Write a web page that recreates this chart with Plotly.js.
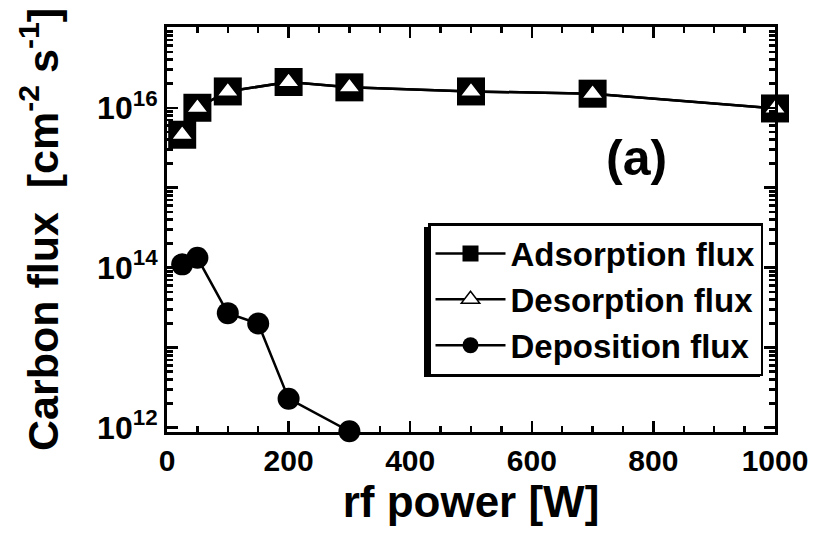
<!DOCTYPE html>
<html><head><meta charset="utf-8">
<script src="https://cdn.plot.ly/plotly-3.0.1.min.js"></script>
<style>html,body{margin:0;padding:0;background:#fff;}#chart{width:815px;height:533px;}</style>
</head><body><div id="chart"></div>
<script>
// ---- data ----
const power = [25, 50, 100, 200, 300, 500, 700, 1000];
const adsorptionFlux = [4.6e15, 1.0e16, 1.6e16, 2.1e16, 1.8e16, 1.6e16, 1.5e16, 9.8e15];
const desorptionFlux = [4.6e15, 1.0e16, 1.6e16, 2.1e16, 1.8e16, 1.6e16, 1.5e16, 9.8e15];
const depPower = [25, 50, 100, 150, 200, 300];
const depositionFlux = [1.1e14, 1.33e14, 2.7e13, 2.0e13, 2.3e12, 9.0e11];
const yTickVals = [1e12, 1e14, 1e16];
const yTickText = ['10<sup>12</sup>', '10<sup>14</sup>', '10<sup>16</sup>'];
const xTickVals = [0, 200, 400, 600, 800, 1000];
const xTickText = ['0', '200', '400', '600', '800', '1000'];
const seriesNames = ['Adsorption flux', 'Desorption flux', 'Deposition flux'];

// unlabeled decade ticks and minor tick positions for the log axis
const oddDecades = [1e11, 1e13, 1e15, 1e17];
const minors = [];
for (let e = 11; e <= 17; e++) {
  for (let m = 2; m <= 9; m++) minors.push(m * Math.pow(10, e));
}

const FONT = 'Liberation Sans, Arial, Helvetica, sans-serif';
const yRange = [11.945, 17.01];

// plot area in pixels (for placing decorations in paper coordinates)
const PL = 167, PR = 775, PT = 27, PB = 432;
const px = v => (v - PL) / (PR - PL);
const py = v => (PB - v) / (PB - PT);

const traces = [
  {x: power, y: adsorptionFlux, name: seriesNames[0], type: 'scatter', mode: 'lines+markers',
   line: {color: '#000', width: 2.5},
   marker: {symbol: 'square', size: 28, color: '#000', line: {color: '#000', width: 0}},
   cliponaxis: false},
  {x: power, y: desorptionFlux, name: seriesNames[1], type: 'scatter', mode: 'lines+markers',
   line: {color: '#000', width: 2.5},
   marker: {symbol: 'triangle-up', size: 19, color: '#fff', line: {color: '#000', width: 1.5}},
   cliponaxis: false},
  {x: depPower, y: depositionFlux, name: seriesNames[2], type: 'scatter', mode: 'lines+markers',
   line: {color: '#000', width: 2.5},
   marker: {symbol: 'circle', size: 22, color: '#000'},
   cliponaxis: false},
  // invisible helpers on the tick-only axes
  {x: [0], y: [1e14], yaxis: 'y2', mode: 'markers', marker: {opacity: 0}, showlegend: false, hoverinfo: 'skip'},
  {x: [0], y: [1e14], yaxis: 'y3', mode: 'markers', marker: {opacity: 0}, showlegend: false, hoverinfo: 'skip'}
];

const tickOnlyAxis = (vals, len) => ({
  type: 'log', range: yRange, overlaying: 'y', side: 'left', anchor: 'x',
  tickmode: 'array', tickvals: vals, showticklabels: false,
  ticks: 'inside', ticklen: len, tickwidth: 2.5, tickcolor: '#000',
  showline: false, mirror: 'ticks', showgrid: false, zeroline: false
});

const layout = {
  width: 815, height: 533,
  margin: {l: 167, r: 40, t: 27, b: 101},
  paper_bgcolor: '#fff', plot_bgcolor: '#fff',
  font: {family: FONT, color: '#000', weight: 'bold'},
  showlegend: true,
  xaxis: {
    range: [0, 1000], tickmode: 'array', tickvals: xTickVals, ticktext: xTickText,
    ticks: 'inside', ticklen: 11, tickwidth: 2.5, tickcolor: '#000',
    minor: {dtick: 50, ticks: 'inside', ticklen: 6, tickwidth: 2.5, tickcolor: '#000', showgrid: false},
    showline: true, linewidth: 3, linecolor: '#000', mirror: 'ticks',
    showgrid: false, zeroline: false,
    tickfont: {size: 30, family: FONT, weight: 'bold'},
    title: {text: 'rf power [W]', font: {size: 44, family: FONT, weight: 'bold'}, standoff: 10}
  },
  yaxis: {
    type: 'log', range: yRange, tickmode: 'array', tickvals: yTickVals, ticktext: yTickText,
    ticks: 'inside', ticklen: 11, tickwidth: 2.5, tickcolor: '#000',
    showline: true, linewidth: 3, linecolor: '#000', mirror: 'ticks',
    showgrid: false, zeroline: false,
    tickfont: {size: 32, family: FONT, weight: 'bold'},
    title: {text: 'Carbon flux  [cm<sup>-2</sup> s<sup>-1</sup>]', font: {size: 43, family: FONT, weight: 'bold'}, standoff: 26}
  },
  yaxis2: tickOnlyAxis(minors, 6),
  yaxis3: tickOnlyAxis(oddDecades, 11),
  legend: {
    x: px(763), xanchor: 'right', y: py(223), yanchor: 'top',
    bgcolor: '#fff', bordercolor: '#000', borderwidth: 2.5,
    font: {size: 33, family: FONT, weight: 'bold'},
    itemwidth: 70, tracegroupgap: 0
  },
  shapes: [
    // legend drop shadow
    {type: 'rect', xref: 'paper', yref: 'paper', x0: px(424), x1: px(760), y0: py(377), y1: py(227),
     fillcolor: '#000', line: {width: 0}, layer: 'above'}
  ],
  annotations: [
    {text: '(a)', xref: 'paper', yref: 'paper', x: px(636), y: py(158),
     xanchor: 'center', yanchor: 'middle', showarrow: false,
     font: {size: 50, family: FONT, weight: 'bold'}}
  ]
};

Plotly.newPlot('chart', traces, layout, {displayModeBar: false, staticPlot: true});
</script>
</body></html>
